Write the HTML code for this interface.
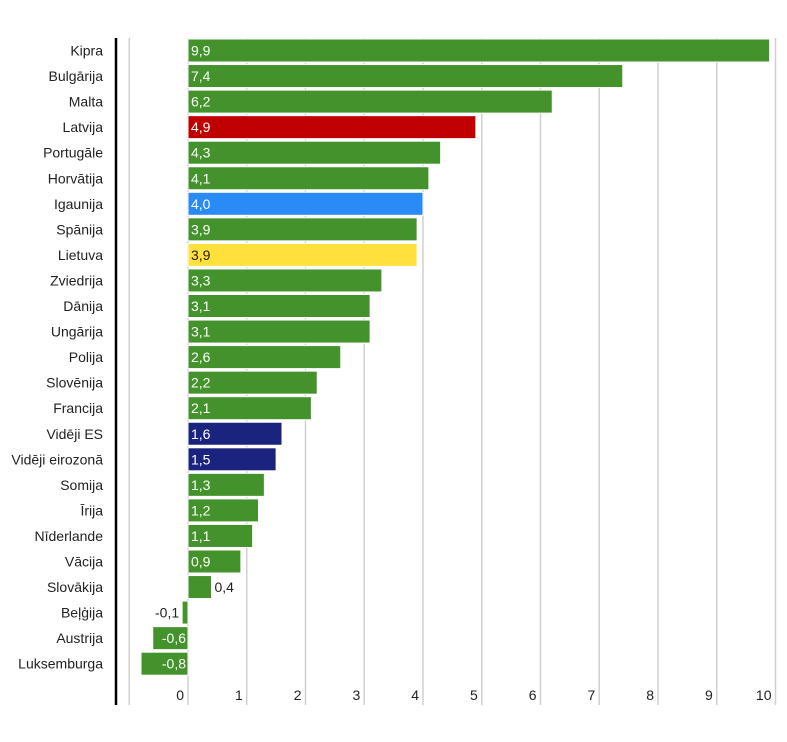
<!DOCTYPE html>
<html><head><meta charset="utf-8"><style>
body{margin:0;background:#fff;font-family:"Liberation Sans","DejaVu Sans",sans-serif}
</style></head><body>
<svg id="c" width="787" height="737" xmlns="http://www.w3.org/2000/svg" font-family="Liberation Sans, DejaVu Sans, sans-serif" font-size="14"></svg>
<script>
const categories=["Kipra","Bulgārija","Malta","Latvija","Portugāle","Horvātija","Igaunija","Spānija","Lietuva","Zviedrija","Dānija","Ungārija","Polija","Slovēnija","Francija","Vidēji ES","Vidēji eirozonā","Somija","Īrija","Nīderlande","Vācija","Slovākija","Beļģija","Austrija","Luksemburga"];
const values=[9.9,7.4,6.2,4.9,4.3,4.1,4.0,3.9,3.9,3.3,3.1,3.1,2.6,2.2,2.1,1.6,1.5,1.3,1.2,1.1,0.9,0.4,-0.1,-0.6,-0.8];
const colors=["#43922c","#43922c","#43922c","#c00000","#43922c","#43922c","#2a8af6","#43922c","#ffe03c","#43922c","#43922c","#43922c","#43922c","#43922c","#43922c","#1a237e","#1a237e","#43922c","#43922c","#43922c","#43922c","#43922c","#43922c","#43922c","#43922c"];
const ticks=[-1,0,1,2,3,4,5,6,7,8,9,10];
const svg=document.getElementById('c');const NS="http://www.w3.org/2000/svg";
const x=v=>188+v*58.75;
const y=i=>38+i*25.55;
function mk(t,a,p){const e=document.createElementNS(NS,t);for(const k in a)e.setAttribute(k,a[k]);(p||svg).appendChild(e);return e;}
ticks.forEach(t=>{
 const g=mk('line',{x1:x(t),x2:x(t),y1:38,y2:705,stroke:'#d0d0d0','stroke-width':1.5});
 
 
 if(t>=0){const l=mk('text',{x:x(t)-4,y:700,'text-anchor':'end',fill:'#222'});l.textContent=t;
 
 }
});
const ax=mk('line',{x1:116,x2:116,y1:38,y2:705,stroke:'#000','stroke-width':2.5});


categories.forEach((c,i)=>{
 const v=values[i];const top=y(i)+1,h=23,cy=top+h/2+5;
 const l=mk('text',{x:103,y:cy,'text-anchor':'end',fill:'#222'});l.textContent=c;
 
 
 const x0=Math.min(x(0),x(v)),w=Math.abs(x(v)-x(0));
 const r=mk('rect',{x:x0,y:top,width:w,height:h,fill:colors[i],stroke:'#fff','stroke-width':1});
 
 
 const s=v.toFixed(1).replace('.',',');
 const txtFill=colors[i]=="#ffe03c"?'#222':'#fff';
 let t;
 if(w<30){ t=v>=0?mk('text',{x:x(v)+3,y:cy,fill:'#222'}):mk('text',{x:x(v)-3,y:cy,'text-anchor':'end',fill:'#222'}); }
 else if(v>=0){ t=mk('text',{x:x(0)+3,y:cy,fill:txtFill}); }
 else { t=mk('text',{x:x(0)-2,y:cy,'text-anchor':'end',fill:'#fff'}); }
 t.textContent=s;
 
 
});
</script>
</body></html>
